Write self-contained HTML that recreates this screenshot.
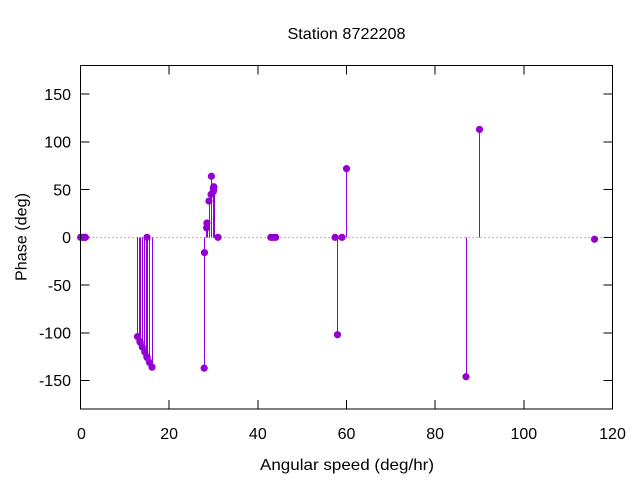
<!DOCTYPE html>
<html><head><meta charset="utf-8"><style>
html,body{margin:0;padding:0;background:#fff;}
svg{display:block;}
text{font-family:"Liberation Sans","DejaVu Sans",sans-serif;font-size:16px;fill:#000;}
</style></head><body>
<svg width="640" height="480" viewBox="0 0 640 480" xmlns="http://www.w3.org/2000/svg">
<rect width="640" height="480" fill="#fff"/>
<!-- zero axis -->
<line x1="80.5" y1="237.5" x2="612.5" y2="237.5" stroke="#a0a0a0" stroke-width="1" stroke-dasharray="1.5 2.5"/>
<!-- ticks -->
<g stroke="#000" stroke-width="1" shape-rendering="crispEdges">
<line x1="80.5" y1="409" x2="80.5" y2="400"/><line x1="169.17" y1="409" x2="169.17" y2="400"/><line x1="257.83" y1="409" x2="257.83" y2="400"/><line x1="346.5" y1="409" x2="346.5" y2="400"/><line x1="435.17" y1="409" x2="435.17" y2="400"/><line x1="523.83" y1="409" x2="523.83" y2="400"/><line x1="612.5" y1="409" x2="612.5" y2="400"/>
<line x1="80.5" y1="65.5" x2="80.5" y2="74.5"/><line x1="169.17" y1="65.5" x2="169.17" y2="74.5"/><line x1="257.83" y1="65.5" x2="257.83" y2="74.5"/><line x1="346.5" y1="65.5" x2="346.5" y2="74.5"/><line x1="435.17" y1="65.5" x2="435.17" y2="74.5"/><line x1="523.83" y1="65.5" x2="523.83" y2="74.5"/><line x1="612.5" y1="65.5" x2="612.5" y2="74.5"/>
<line x1="80.5" y1="94.14" x2="89.5" y2="94.14"/><line x1="80.5" y1="141.88" x2="89.5" y2="141.88"/><line x1="80.5" y1="189.61" x2="89.5" y2="189.61"/><line x1="80.5" y1="237.35" x2="89.5" y2="237.35"/><line x1="80.5" y1="285.09" x2="89.5" y2="285.09"/><line x1="80.5" y1="332.82" x2="89.5" y2="332.82"/><line x1="80.5" y1="380.56" x2="89.5" y2="380.56"/>
<line x1="612.5" y1="94.14" x2="603.5" y2="94.14"/><line x1="612.5" y1="141.88" x2="603.5" y2="141.88"/><line x1="612.5" y1="189.61" x2="603.5" y2="189.61"/><line x1="612.5" y1="237.35" x2="603.5" y2="237.35"/><line x1="612.5" y1="285.09" x2="603.5" y2="285.09"/><line x1="612.5" y1="332.82" x2="603.5" y2="332.82"/><line x1="612.5" y1="380.56" x2="603.5" y2="380.56"/>
</g>
<!-- impulses -->
<g stroke="#9400d3" stroke-width="1" shape-rendering="crispEdges">
<line x1="137.5" y1="237.35" x2="137.5" y2="336.64"/>
<line x1="139.5" y1="237.35" x2="139.5" y2="341.42"/>
<line x1="140.5" y1="237.35" x2="140.5" y2="342.37"/>
<line x1="142.5" y1="237.35" x2="142.5" y2="347.14"/>
<line x1="144.5" y1="237.35" x2="144.5" y2="351.92"/>
<line x1="146.5" y1="237.35" x2="146.5" y2="356.69"/>
<line x1="147.5" y1="237.35" x2="147.5" y2="357.64"/>
<line x1="149.5" y1="237.35" x2="149.5" y2="362.42"/>
<line x1="152.5" y1="237.35" x2="152.5" y2="367.19"/>
<line x1="204.5" y1="237.35" x2="204.5" y2="368.15"/>
<line x1="204.5" y1="237.35" x2="204.5" y2="252.63"/>
<line x1="206.5" y1="237.35" x2="206.5" y2="227.80"/>
<line x1="207.5" y1="237.35" x2="207.5" y2="223.03"/>
<line x1="209.5" y1="237.35" x2="209.5" y2="201.07"/>
<line x1="211.5" y1="237.35" x2="211.5" y2="194.39"/>
<line x1="211.5" y1="237.35" x2="211.5" y2="176.25"/>
<line x1="213.5" y1="237.35" x2="213.5" y2="191.52"/>
<line x1="213.5" y1="237.35" x2="213.5" y2="187.70"/>
<line x1="213.5" y1="237.35" x2="213.5" y2="189.61"/>
<line x1="214.5" y1="237.35" x2="214.5" y2="186.75"/>
<line x1="337.5" y1="237.35" x2="337.5" y2="334.73"/>
<line x1="346.5" y1="237.35" x2="346.5" y2="168.61"/>
<line x1="466.5" y1="237.35" x2="466.5" y2="376.74"/>
<line x1="479.5" y1="237.35" x2="479.5" y2="129.47"/>
<line x1="594.5" y1="237.35" x2="594.5" y2="239.26"/>
</g>
<!-- points -->
<g fill="#9400d3">
<circle cx="80.68" cy="237.35" r="3.6"/><circle cx="80.86" cy="237.35" r="3.6"/><circle cx="82.91" cy="237.35" r="3.6"/><circle cx="85.0" cy="237.35" r="3.6"/><circle cx="85.37" cy="237.35" r="3.6"/>
<circle cx="137.49" cy="336.64" r="3.6"/><circle cx="139.90" cy="341.42" r="3.6"/><circle cx="140.22" cy="342.37" r="3.6"/><circle cx="142.31" cy="347.14" r="3.6"/><circle cx="144.77" cy="351.92" r="3.6"/><circle cx="146.82" cy="356.69" r="3.6"/><circle cx="147.0" cy="237.35" r="3.6"/><circle cx="147.18" cy="357.64" r="3.6"/><circle cx="149.59" cy="362.42" r="3.6"/><circle cx="152.05" cy="367.19" r="3.6"/>
<circle cx="204.17" cy="368.15" r="3.6"/><circle cx="204.49" cy="252.63" r="3.6"/><circle cx="206.58" cy="227.80" r="3.6"/><circle cx="206.90" cy="223.03" r="3.6"/><circle cx="208.99" cy="201.07" r="3.6"/><circle cx="211.08" cy="194.39" r="3.6"/><circle cx="211.41" cy="176.25" r="3.6"/><circle cx="213.32" cy="191.52" r="3.6"/><circle cx="213.50" cy="187.70" r="3.6"/><circle cx="213.68" cy="189.61" r="3.6"/><circle cx="213.86" cy="186.75" r="3.6"/><circle cx="218.00" cy="237.35" r="3.6"/>
<circle cx="270.81" cy="237.35" r="3.6"/><circle cx="273.24" cy="237.35" r="3.6"/><circle cx="275.68" cy="237.35" r="3.6"/>
<circle cx="335.08" cy="237.35" r="3.6"/><circle cx="337.49" cy="334.73" r="3.6"/><circle cx="342.00" cy="237.35" r="3.6"/><circle cx="346.50" cy="168.61" r="3.6"/>
<circle cx="465.99" cy="376.74" r="3.6"/><circle cx="479.50" cy="129.47" r="3.6"/><circle cx="594.48" cy="239.26" r="3.6"/>
</g>
<!-- border -->
<rect x="80.5" y="65.5" width="532" height="343.5" fill="none" stroke="#000" stroke-width="1" shape-rendering="crispEdges"/>
<!-- tick labels -->
<g text-anchor="end">
<text x="71" y="99.8">150</text>
<text x="71" y="147.5">100</text>
<text x="71" y="195.3">50</text>
<text x="71" y="243">0</text>
<text x="71" y="290.8">-50</text>
<text x="71" y="338.5">-100</text>
<text x="71" y="386.2">-150</text>
</g>
<g text-anchor="middle">
<text x="81.5" y="439">0</text>
<text x="169.17" y="439">20</text>
<text x="257.83" y="439">40</text>
<text x="346.5" y="439">60</text>
<text x="435.17" y="439">80</text>
<text x="523.83" y="439">100</text>
<text x="612.5" y="439">120</text>
</g>
<text x="287.5" y="39" textLength="118" lengthAdjust="spacingAndGlyphs">Station 8722208</text>
<text x="260" y="470" textLength="174" lengthAdjust="spacingAndGlyphs">Angular speed (deg/hr)</text>
<text transform="translate(26.5,281) rotate(-90)" x="0" y="0" textLength="88" lengthAdjust="spacingAndGlyphs">Phase (deg)</text>
</svg>
</body></html>
